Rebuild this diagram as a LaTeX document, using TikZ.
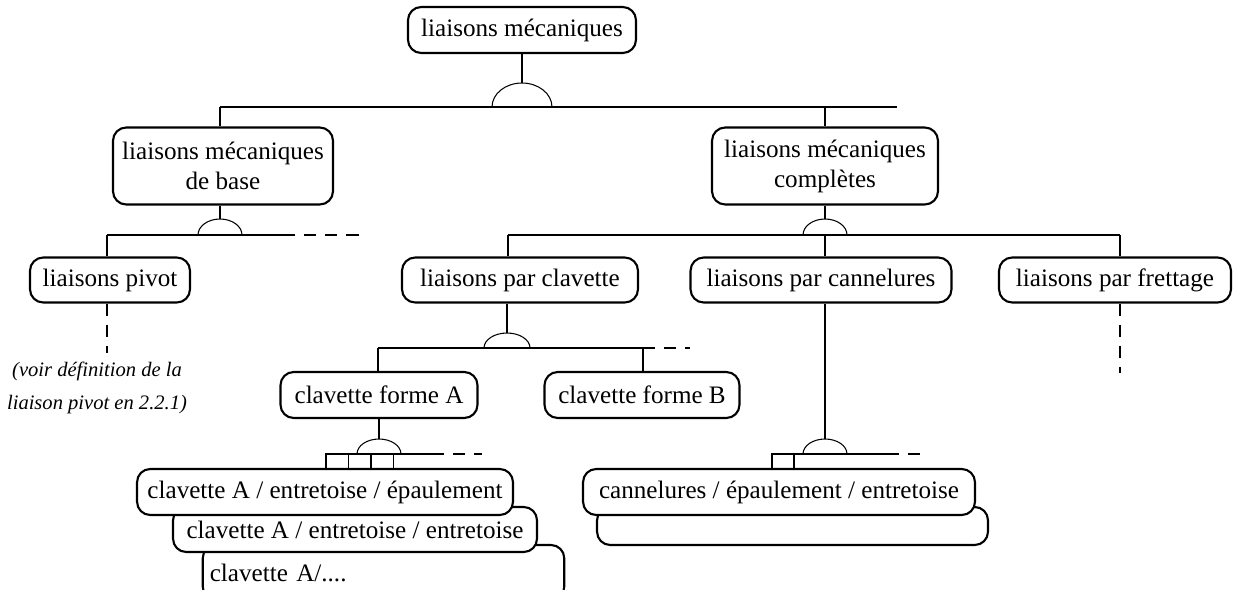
\documentclass[tikz,border=0pt]{standalone}
\usepackage{fontspec}
\setmainfont{Liberation Serif}
\usetikzlibrary{positioning}

\begin{document}
\begin{tikzpicture}[x=0.02cm,y=-0.02cm,
        box/.style={draw,line width=1.2pt,rounded corners=7.5pt,fill=white,inner xsep=4pt,inner ysep=0pt,align=center,font=\fontsize{14.3}{17}\selectfont},
        link/.style={line width=0.6pt},
        more/.style={line width=0.6pt,dash pattern=on 7pt off 5pt},
        note/.style={font=\fontsize{11.7}{18.7}\selectfont\itshape,align=center}]
        \useasboundingbox (0,0) rectangle (1236,589);
        % boxes
        \node[box,minimum width=4.56cm,minimum height=0.92cm] (root) at (522,30) {liaisons mécaniques};
        \node[box,minimum width=4.4cm,minimum height=1.54cm] (base) at (223,166) {liaisons mécaniques\\de base};
        \node[box,minimum width=4.52cm,minimum height=1.54cm] (compl) at (825,166) {liaisons mécaniques\\complètes};
        \node[box,minimum width=3.2cm,minimum height=0.9cm] (pivot) at (110,280) {liaisons pivot};
        \node[box,minimum width=4.72cm,minimum height=0.9cm] (clav) at (520,280) {liaisons par clavette};
        \node[box,minimum width=5.22cm,minimum height=0.9cm] (cann) at (821,280) {liaisons par cannelures};
        \node[box,minimum width=4.64cm,minimum height=0.9cm] (frett) at (1115,280) {liaisons par frettage};
        \node[box,minimum width=3.94cm,minimum height=0.92cm] (formA) at (379,395) {clavette forme A};
        \node[box,minimum width=3.9cm,minimum height=0.92cm] (formB) at (642,395) {clavette forme B};
        \node[box,text width=6.95cm,align=left,minimum height=1.1cm] (clavC) at (383.5,572.5) {clavette A/....};
        \node[box,minimum width=7.28cm,minimum height=0.9cm] (clavB) at (355,529.5) {clavette A / entretoise / entretoise};
        \node[box,minimum width=7.52cm,minimum height=0.92cm] (clavA) at (325,492) {clavette A / entretoise / épaulement};
        \node[box,minimum width=7.82cm,minimum height=0.76cm] (cannB) at (792.5,526) {};
        \node[box,minimum width=7.84cm,minimum height=0.92cm] (cannA) at (779,492) {cannelures / épaulement / entretoise};
        \node[note] (voir) at (97,388) {(voir définition de la\\liaison pivot en 2.2.1)};

        % root -> base / compl
        \coordinate (t0) at (522,83);
        \coordinate (b0l) at (220,107);
        \coordinate (b0m) at (825,107);
        \coordinate (b0r) at (897,107);
        \draw[link] (root) -- (t0);
        \draw[link] (t0) ++(-30,24) arc[start angle=180,end angle=0,x radius=0.6cm,y radius=0.48cm];
        \draw[link] (b0l) -- (b0r);
        \draw[link] (b0l) -- (b0l |- base.north);
        \draw[link] (b0m) -- (compl);

        % base -> pivot
        \coordinate (t1) at (220,219);
        \coordinate (b1l) at (107,235);
        \coordinate (b1r) at (283,235);
        \coordinate (b1e) at (363,235);
        \coordinate (n1) at (107,353);
        \draw[link] (t1 |- base.south) -- (t1);
        \draw[link] (t1) ++(-22,16) arc[start angle=180,end angle=0,x radius=0.44cm,y radius=0.32cm];
        \draw[link] (b1l) -- (b1r);
        \draw[more] (b1r) -- (b1e);
        \draw[link] (b1l) -- (b1l |- pivot.north);
        \draw[more] (b1l |- pivot.south) -- (n1);

        % compl -> clav / cann / frett
        \coordinate (t2) at (825,219);
        \coordinate (b2l) at (508,235);
        \coordinate (b2m) at (825,235);
        \coordinate (b2r) at (1120,235);
        \coordinate (n2) at (1120,373);
        \draw[link] (compl) -- (t2);
        \draw[link] (t2) ++(-22,16) arc[start angle=180,end angle=0,x radius=0.44cm,y radius=0.32cm];
        \draw[link] (b2l) -- (b2r);
        \draw[link] (b2l) -- (b2l |- clav.north);
        \draw[link] (b2m) -- (b2m |- cann.north);
        \draw[link] (b2r) -- (b2r |- frett.north);
        \draw[more] (b2r |- frett.south) -- (n2);

        % clav -> formA / formB
        \coordinate (t3) at (507,333);
        \coordinate (b3l) at (378,348);
        \coordinate (b3r) at (643,348);
        \coordinate (b3e) at (690,348);
        \draw[link] (t3 |- clav.south) -- (t3);
        \draw[link] (t3) ++(-23,15) arc[start angle=180,end angle=0,x radius=0.46cm,y radius=0.3cm];
        \draw[link] (b3l) -- (b3r);
        \draw[more] (b3r) -- (b3e);
        \draw[link] (b3l) -- (b3l |- formA.north);
        \draw[link] (b3r) -- (b3r |- formB.north);

        % formA -> clavA
        \coordinate (t4) at (379,439);
        \coordinate (b4l) at (326,454);
        \coordinate (b4r) at (432,454);
        \coordinate (b4e) at (482,454);
        \draw[link] (formA) -- (t4);
        \draw[link] (t4) ++(-22,15) arc[start angle=180,end angle=0,x radius=0.44cm,y radius=0.3cm];
        \draw[link] (b4l) -- (b4r);
        \draw[more] (b4r) -- (b4e);
        \foreach \x in {326,348.5,371}
            \draw[link] (\x,454) rectangle ++(22.5,15);

        % cann -> cannA
        \coordinate (t5) at (825,439);
        \coordinate (b5l) at (772,454);
        \coordinate (b5r) at (887,454);
        \coordinate (b5e) at (928,454);
        \draw[link] (t5 |- cann.south) -- (t5);
        \draw[link] (t5) ++(-22,15) arc[start angle=180,end angle=0,x radius=0.44cm,y radius=0.3cm];
        \draw[link] (b5l) -- (b5r);
        \draw[more] (b5r) -- (b5e);
        \draw[link] (b5l) rectangle (794,469);
    \end{tikzpicture}
\end{document}
